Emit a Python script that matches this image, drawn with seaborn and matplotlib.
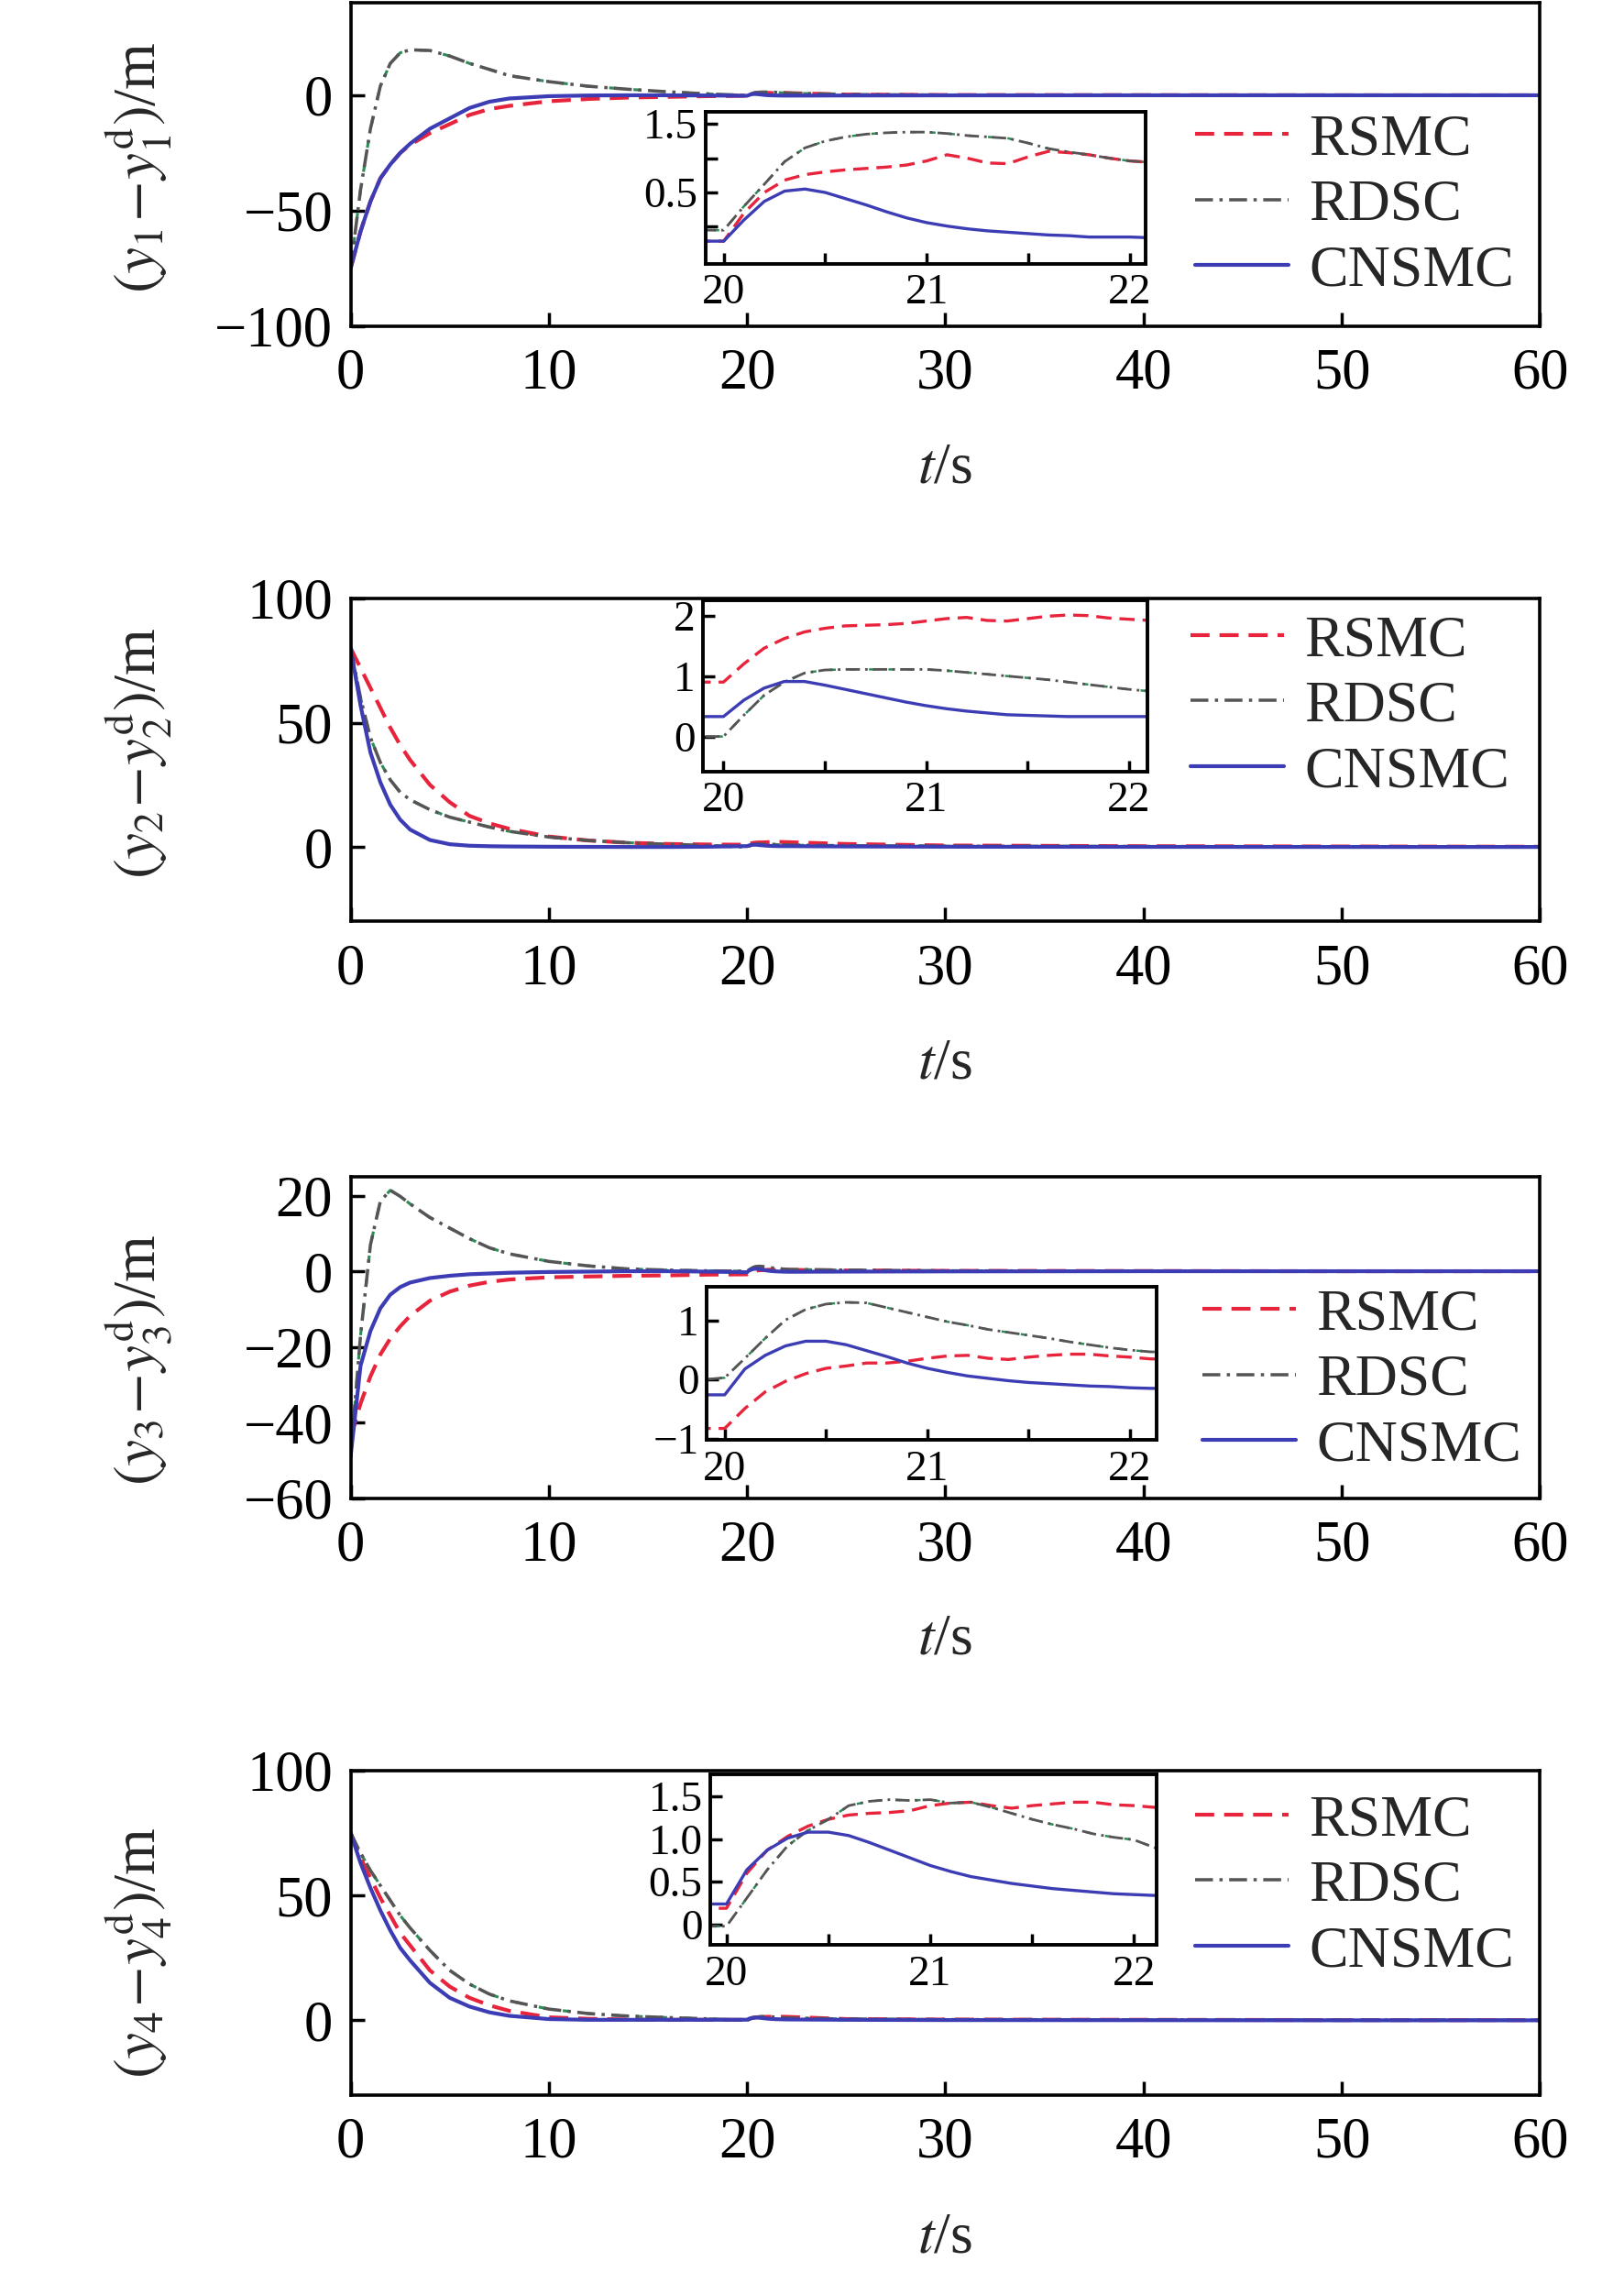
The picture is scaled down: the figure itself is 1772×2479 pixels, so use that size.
import matplotlib
matplotlib.use('Agg')
import matplotlib.pyplot as plt
import seaborn as sns

# time samples (s): transient, zoom window 19.9-22.1, tail
t = [0, 0.5, 1, 1.5, 2, 2.5, 3, 4, 5, 6, 7, 8, 10, 12, 14, 16, 18,
     19.9, 20.0, 20.1, 20.2, 20.3, 20.4, 20.5, 20.6, 20.7, 20.8, 20.9,
     21.0, 21.1, 21.2, 21.3, 21.4, 21.5, 21.6, 21.7, 21.8, 21.9, 22.0, 22.1,
     25, 30, 40, 50, 60]

# y1 - y1d
y1_rsmc = ([-75, -59, -46, -36, -30, -25, -21.5, -16.4, -12.5, -8.5, -6, -4.6, -2.6, -1.6, -1.0, -0.7, -0.4]
           + [-0.21, -0.21, 0.2, 0.5, 0.68, 0.76, 0.8, 0.83, 0.85, 0.87, 0.9, 0.96, 1.05, 1.0, 0.93, 0.92,
              1.02, 1.1, 1.08, 1.05, 1.0, 0.96, 0.94]
           + [0.3, 0.1, 0.05, 0, 0])
y1_rdsc = ([-75, -41, -14.5, 4, 13.8, 18.4, 19.7, 19.4, 17, 13.8, 11.2, 8.5, 5.9, 3.9, 2.6, 1.5, 0.6]
           + [-0.05, -0.05, 0.3, 0.62, 0.95, 1.15, 1.25, 1.31, 1.35, 1.37, 1.38, 1.38, 1.36, 1.33, 1.31, 1.29,
              1.22, 1.14, 1.09, 1.05, 1.0, 0.96, 0.94]
           + [0.3, 0.1, 0.05, 0, 0])
y1_cnsmc = ([-75, -59, -46, -36, -30, -25, -21, -14.5, -10, -5.5, -2.8, -1.4, -0.4, -0.1, 0, 0, -0.1]
            + [-0.21, -0.21, 0.10, 0.37, 0.52, 0.55, 0.50, 0.41, 0.32, 0.22, 0.13, 0.06, 0.01, -0.03, -0.06,
               -0.08, -0.10, -0.12, -0.13, -0.15, -0.15, -0.15, -0.16]
            + [-0.1, -0.05, 0, 0, 0])

# y2 - y2d
y2_rsmc = ([80, 72, 64, 56, 48, 41, 35, 25, 18, 12.5, 9.5, 7.3, 4.2, 2.6, 1.7, 1.2, 1.0]
           + [0.9, 0.9, 1.2, 1.46, 1.62, 1.73, 1.79, 1.83, 1.84, 1.85, 1.87, 1.91, 1.95, 1.97, 1.92, 1.91,
              1.95, 1.99, 2.01, 2.0, 1.96, 1.94, 1.92]
           + [1.2, 0.6, 0.3, 0.2, 0.1])
y2_rdsc = ([80, 60, 44, 34, 27, 22, 19, 15, 12, 10, 8, 6.3, 4, 2.6, 1.7, 1.1, 0.6]
           + [0.0, 0.0, 0.35, 0.68, 0.9, 1.05, 1.1, 1.11, 1.11, 1.11, 1.11, 1.11, 1.09, 1.06, 1.03, 1.0,
              0.97, 0.94, 0.9, 0.86, 0.82, 0.78, 0.75]
           + [0.5, 0.3, 0.2, 0.1, 0.1])
y2_cnsmc = ([80, 57, 38, 26, 17, 11, 7, 2.8, 1.1, 0.5, 0.3, 0.2, 0.1, 0.05, 0, 0, 0.1]
            + [0.33, 0.33, 0.6, 0.8, 0.91, 0.91, 0.85, 0.78, 0.71, 0.64, 0.57, 0.51, 0.46, 0.42, 0.39, 0.36,
               0.35, 0.34, 0.33, 0.33, 0.33, 0.33, 0.33]
            + [0.2, 0.1, 0.05, 0, 0])

# y3 - y3d
y3_rsmc = ([-44, -35, -27.8, -22, -17.8, -14.6, -11.8, -7.8, -5.4, -3.8, -2.8, -2.2, -1.6, -1.4, -1.2, -1.1, -0.9]
           + [-0.83, -0.83, -0.49, -0.21, -0.03, 0.1, 0.19, 0.23, 0.28, 0.28, 0.31, 0.36, 0.4, 0.41, 0.36, 0.34,
              0.38, 0.41, 0.43, 0.43, 0.4, 0.38, 0.35]
           + [0.2, 0.1, 0.05, 0, 0])
y3_rdsc = ([-49, -17, 7, 18.5, 21.4, 19.8, 17.8, 14.2, 11.4, 8.6, 6.2, 4.6, 2.6, 1.4, 0.6, 0.3, 0.1]
           + [0.0, 0.03, 0.36, 0.7, 1.01, 1.19, 1.28, 1.31, 1.3, 1.22, 1.14, 1.06, 0.98, 0.92, 0.85, 0.8,
              0.75, 0.7, 0.64, 0.59, 0.54, 0.5, 0.47]
           + [0.3, 0.1, 0.05, 0, 0])
y3_cnsmc = ([-49, -25, -15.8, -9.8, -6.2, -4.2, -3.0, -1.8, -1.2, -0.8, -0.6, -0.4, -0.2, -0.1, 0, 0, -0.1]
            + [-0.26, -0.26, 0.18, 0.41, 0.57, 0.65, 0.65, 0.59, 0.49, 0.39, 0.28, 0.19, 0.12, 0.06, 0.02, -0.02,
               -0.05, -0.07, -0.09, -0.11, -0.12, -0.14, -0.15]
            + [-0.1, -0.05, 0, 0, 0])

# y4 - y4d
y4_rsmc = ([75, 65, 57, 49, 42, 35, 30, 20, 13.5, 9, 6, 3.8, 1.2, 0.6, 0.3, 0.2, 0.2]
           + [0.19, 0.19, 0.6, 0.87, 1.03, 1.15, 1.23, 1.28, 1.3, 1.31, 1.33, 1.39, 1.42, 1.43, 1.39, 1.36,
              1.39, 1.41, 1.43, 1.43, 1.4, 1.39, 1.37]
           + [0.5, 0.3, 0.2, 0.1, 0.1])
y4_rdsc = ([75, 67, 60, 54, 48, 42, 37, 28, 20, 14.5, 10.5, 7.8, 4.5, 2.7, 1.7, 1.1, 0.6]
           + [-0.02, -0.02, 0.31, 0.64, 0.92, 1.1, 1.23, 1.39, 1.44, 1.46, 1.45, 1.46, 1.42, 1.43, 1.37, 1.3,
              1.23, 1.17, 1.12, 1.06, 1.02, 0.99, 0.9]
           + [0.5, 0.3, 0.2, 0.1, 0.1])
y4_cnsmc = ([75, 63, 53, 44, 36, 29, 24, 15, 9, 5.5, 3.2, 1.8, 0.5, 0.2, 0.2, 0.2, 0.2]
            + [0.24, 0.24, 0.64, 0.87, 1.01, 1.08, 1.08, 1.04, 0.96, 0.87, 0.78, 0.69, 0.62, 0.56, 0.52, 0.48,
               0.45, 0.42, 0.40, 0.38, 0.36, 0.35, 0.34]
            + [0.2, 0.1, 0.05, 0, 0])

labels = ['RSMC', 'RDSC', 'CNSMC']
y_labels = [r'$(y_1\!-\!y_1^{\rm d})$/m', r'$(y_2\!-\!y_2^{\rm d})$/m',
            r'$(y_3\!-\!y_3^{\rm d})$/m', r'$(y_4\!-\!y_4^{\rm d})$/m']
x_ticks = [0, 10, 20, 30, 40, 50, 60]
main_yticks = [[-100, -50, 0], [0, 50, 100], [-60, -40, -20, 0, 20], [0, 50, 100]]
main_ylims = [(-100, 40), (-30, 100), (-60, 25), (-30, 100)]
in_xticks = [20, 20.5, 21, 21.5, 22]
in_xticklabels = ['20', '', '21', '', '22']
in_yticks = [[0, 0.5, 1, 1.5], [0, 1, 2], [-1, 0, 1], [0, 0.5, 1, 1.5]]
in_yticklabels = [['', '0.5', '', '1.5'], ['0', '1', '2'], ['\u22121', '0', '1'], ['0', '0.5', '1.0', '1.5']]
in_ylims = [(-0.54, 1.68), (-0.58, 2.25), (-1.03, 1.58), (-0.24, 1.76)]
in_xlims = [(19.91, 22.08), (19.90, 22.09), (19.91, 22.13), (19.92, 22.11)]

series = [(y1_rsmc, y1_rdsc, y1_cnsmc), (y2_rsmc, y2_rdsc, y2_cnsmc),
          (y3_rsmc, y3_rdsc, y3_cnsmc), (y4_rsmc, y4_rdsc, y4_cnsmc)]

sns.set_theme(style='ticks')
plt.rcParams['font.family'] = ['Liberation Serif', 'DejaVu Serif']
plt.rcParams['mathtext.fontset'] = 'stix'
plt.rcParams['axes.linewidth'] = 2.6
plt.rcParams['axes.edgecolor'] = 'black'
plt.rcParams['axes.facecolor'] = 'white'

red = '#e8243c'
gray = '#555555'
green = '#2e8b57'
blue = '#3c3cb4'

main_rects = [[0.2159, 0.8565, 0.7324, 0.1422],
              [0.2159, 0.5944, 0.7324, 0.1422],
              [0.2159, 0.3406, 0.7324, 0.1415],
              [0.2159, 0.0778, 0.7324, 0.1429]]
inset_rects = [[0.4344, 0.8839, 0.2712, 0.0670],
               [0.4330, 0.6604, 0.2733, 0.0753],
               [0.4350, 0.3661, 0.2770, 0.0677],
               [0.4373, 0.1439, 0.2748, 0.0753]]
leg_pos = [(0.71, 0.372), (0.706, 0.664), (0.716, 0.365), (0.71, 0.643)]
ylab_y = [0.49, 0.52, 0.43, 0.44]


def draw(ax, data, lw, with_labels):
    rsmc, rdsc, cnsmc = data
    # faint green trace underneath the RDSC dash-dot line
    sns.lineplot(x=t, y=rdsc, ax=ax, color=green, lw=lw * 0.75, ls=(0, (2.5, 6)),
                 sort=False, estimator=None)
    sns.lineplot(x=t, y=rsmc, ax=ax, color=red, lw=lw, ls=(0, (5, 2.6)),
                 sort=False, estimator=None, label=labels[0] if with_labels else None)
    sns.lineplot(x=t, y=rdsc, ax=ax, color=gray, lw=lw * 0.85, ls=(0, (5.5, 2, 1, 2)),
                 sort=False, estimator=None, label=labels[1] if with_labels else None)
    sns.lineplot(x=t, y=cnsmc, ax=ax, color=blue, lw=lw, ls='-',
                 sort=False, estimator=None, label=labels[2] if with_labels else None)


fig = plt.figure(figsize=(17.72, 24.79), dpi=100)
fig.patch.set_facecolor('white')

for i in range(4):
    ax = fig.add_axes(main_rects[i])
    draw(ax, series[i], 3.0, True)
    ax.set_xlim(0, 60)
    ax.set_ylim(*main_ylims[i])
    ax.set_xticks(x_ticks)
    ax.set_yticks(main_yticks[i])
    ax.set_yticklabels([str(v).replace('-', '\u2212') for v in main_yticks[i]])
    ax.tick_params(direction='in', length=11, width=2.5, labelsize=45,
                   top=False, right=False, colors='black')
    ax.tick_params(axis='x', pad=17)
    ax.tick_params(axis='y', pad=14)
    for s in ax.spines.values():
        s.set_visible(True)
        s.set_linewidth(2.6)
    ax.set_xlabel(r'$t$/s', fontsize=46)
    ax.xaxis.set_label_coords(0.5, -0.36)
    ax.set_ylabel(y_labels[i], fontsize=47)
    ax.yaxis.set_label_coords(-0.148, ylab_y[i])
    ax.legend(loc='center left', bbox_to_anchor=leg_pos[i], frameon=False,
              fontsize=46, borderpad=0, borderaxespad=0, handlelength=1.6,
              handletextpad=0.35, labelspacing=0.2)

    axin = fig.add_axes(inset_rects[i])
    draw(axin, series[i], 2.4, False)
    if axin.get_legend() is not None:
        axin.get_legend().remove()
    axin.set_xlim(*in_xlims[i])
    axin.set_ylim(*in_ylims[i])
    axin.set_xticks(in_xticks)
    axin.set_xticklabels(in_xticklabels)
    axin.set_yticks(in_yticks[i])
    axin.set_yticklabels(in_yticklabels[i])
    axin.tick_params(direction='in', length=9, width=2.5, labelsize=34,
                     top=False, right=False, colors='black')
    axin.tick_params(axis='x', pad=8)
    axin.tick_params(axis='y', pad=6)
    axin.set_xlabel('')
    axin.set_ylabel('')
    for s in axin.spines.values():
        s.set_visible(True)
        s.set_linewidth(2.8)

fig.savefig('out.png', dpi=100, facecolor='white')
